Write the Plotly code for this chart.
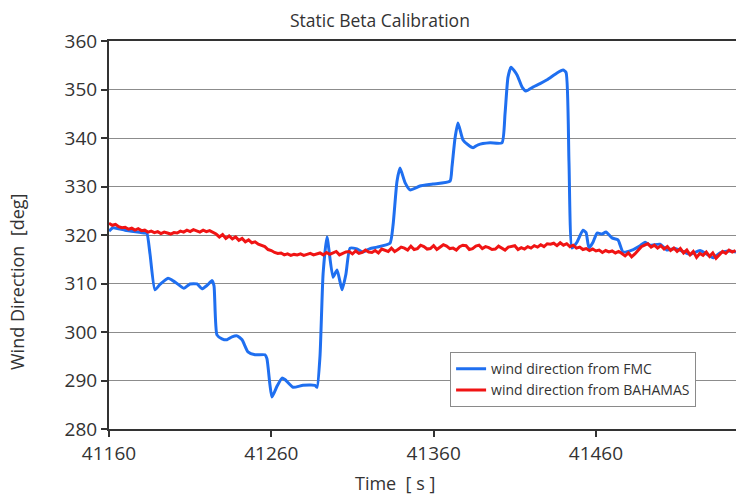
import plotly.graph_objects as go

# FMC-derived wind direction (time [s], direction [deg])
fmc_time = [
    41160.0, 41162.5, 41169.9, 41182.2, 41183.4, 41185.3, 41188.3, 41191.4, 41196.4, 41198.8,
    41201.9, 41206.2, 41209.9, 41214.2, 41217.3, 41220.4, 41223.5, 41224.7, 41226.5, 41229.6,
    41232.7, 41235.8, 41238.9, 41242.0, 41245.6, 41250.0, 41256.1, 41257.3, 41259.2, 41260.4,
    41263.5, 41266.6, 41268.4, 41273.4, 41279.5, 41286.9, 41288.2, 41290.0, 41291.9, 41294.3,
    41298.0, 41300.5, 41303.6, 41306.0, 41308.5, 41312.8, 41316.5, 41320.8, 41325.1, 41333.1,
    41335.0, 41337.4, 41339.3, 41342.4, 41345.5, 41351.6, 41359.6, 41370.1, 41371.3, 41373.2,
    41375.0, 41378.1, 41381.2, 41384.3, 41387.4, 41394.8, 41402.1, 41404.0, 41405.8, 41407.7,
    41411.4, 41414.5, 41416.9, 41421.2, 41425.6, 41429.9, 41436.0, 41439.7, 41441.6, 41443.4,
    41445.3, 41448.3, 41452.0, 41453.9, 41455.7, 41458.2, 41460.7, 41463.8, 41466.2, 41469.9,
    41473.6, 41476.7, 41482.2, 41487.2, 41490.3, 41493.3, 41499.5, 41503.8, 41508.7, 41513.7,
    41518.0, 41524.1, 41528.5, 41532.2, 41536.5, 41541.4, 41546.3,
]
fmc_dir = [
    320.8, 321.5, 321.0, 320.4, 320.3, 316.0, 308.7, 309.8, 311.1, 310.7,
    310.0, 309.0, 309.9, 309.9, 308.9, 309.6, 310.6, 309.5, 299.4, 298.6,
    298.4, 299.0, 299.2, 298.4, 295.9, 295.3, 295.3, 294.5, 289.0, 286.6,
    288.8, 290.5, 290.2, 288.6, 289.0, 289.0, 288.6, 295.0, 312.0, 319.6,
    311.3, 312.8, 308.7, 312.0, 317.3, 317.1, 316.5, 317.2, 317.5, 318.3,
    322.0, 331.0, 333.8, 330.8, 329.3, 330.1, 330.5, 331.1, 334.0, 340.0,
    343.1, 339.6, 338.6, 338.0, 338.6, 339.0, 339.0, 345.0, 352.5, 354.6,
    353.0, 350.5, 349.7, 350.5, 351.2, 352.0, 353.4, 354.0, 353.5, 335.0,
    317.3, 318.5, 321.0, 320.5, 317.3, 318.5, 320.4, 320.2, 320.6, 319.4,
    319.0, 316.5, 316.9, 317.8, 318.5, 317.9, 318.1, 316.9, 317.2, 316.6,
    316.0, 316.8, 316.0, 315.3, 316.3, 316.7, 316.5,
]

# BAHAMAS wind direction, sampled every 2 s
bahamas_time = list(range(41160, 41547, 2))
bahamas_dir = [
    322.4, 322.0, 322.2, 321.7, 321.5, 321.6, 321.2, 321.4, 321.0, 321.3,
    320.9, 321.0, 320.6, 320.8, 320.5, 320.7, 320.3, 320.6, 320.4, 320.2,
    320.5, 320.4, 320.8, 320.6, 321.0, 320.7, 321.1, 320.8, 320.6, 321.0,
    320.7, 320.9, 320.5, 320.2, 319.6, 320.1, 319.3, 319.8, 319.2, 319.6,
    318.9, 319.3, 318.6, 319.0, 318.4, 318.6, 318.1, 317.8, 317.6, 317.0,
    316.8, 316.4, 316.2, 316.3, 315.9, 316.1, 315.8, 316.0, 315.9, 316.1,
    315.8, 316.0, 316.2, 315.9, 316.1, 316.3, 315.9, 316.4, 316.0, 316.3,
    316.6, 315.9, 316.2, 316.5, 316.6, 316.1, 316.7, 316.2, 316.4, 316.9,
    316.5, 316.4, 316.8, 316.3, 317.1, 316.8, 316.6, 317.3, 316.6, 317.0,
    317.5, 317.3, 316.9, 317.7, 317.0, 317.2, 317.9, 317.6, 317.1, 317.2,
    317.8, 317.0, 317.5, 318.0, 317.7, 317.2, 317.3, 316.9, 317.6, 317.9,
    317.8, 317.0, 317.2, 317.7, 317.9, 317.2, 317.6, 317.4, 317.0, 317.1,
    317.7, 317.3, 316.9, 317.5, 317.6, 317.8, 317.0, 317.4, 317.1, 317.6,
    317.3, 317.8, 317.5, 318.0, 317.6, 318.2, 318.1, 318.3, 317.8, 318.4,
    317.9, 318.2, 317.6, 317.9, 317.3, 317.5, 317.0, 317.2, 316.8, 317.1,
    316.7, 316.9, 316.4, 316.8, 316.5, 316.7, 316.3, 316.6, 316.2, 315.7,
    316.3, 315.5, 316.1, 316.8, 317.6, 317.9, 318.2, 317.5, 317.9, 317.3,
    317.8, 317.1, 317.6, 316.8, 317.3, 316.6, 317.2, 316.3, 316.9, 315.9,
    316.6, 315.4, 316.2, 315.8, 316.5, 315.6, 316.3, 315.2, 316.0, 316.6,
    316.2, 316.9, 316.5, 316.8,
]

x_ticks = [41160, 41260, 41360, 41460]
x_tick_text = ["41160", "41260", "41360", "41460"]
y_ticks = [280, 290, 300, 310, 320, 330, 340, 350, 360]
y_tick_text = ["280", "290", "300", "310", "320", "330", "340", "350", "360"]

FONT = "Open Sans"
TEXT = "#333333"

fig = go.Figure()
fig.add_trace(go.Scatter(
    x=fmc_time, y=fmc_dir, mode="lines",
    name="wind direction from FMC",
    line=dict(color="#1f6ff0", width=3, shape="spline", smoothing=0.5),
))
fig.add_trace(go.Scatter(
    x=bahamas_time, y=bahamas_dir, mode="lines",
    name="wind direction from BAHAMAS",
    line=dict(color="#f01414", width=3),
))

fig.update_layout(
    width=736, height=494,
    margin=dict(l=109, r=0, t=41, b=65),
    paper_bgcolor="white", plot_bgcolor="white",
    font=dict(family=FONT, color=TEXT),
    showlegend=True,
    legend=dict(
        x=0.544, y=0.198, xanchor="left", yanchor="top",
        bgcolor="white", bordercolor="#8a8a8a", borderwidth=1,
        font=dict(family=FONT, size=14, color=TEXT),
    ),
    xaxis=dict(
        range=[41160, 41546.3], tickvals=x_ticks, ticktext=x_tick_text,
        showgrid=False, zeroline=False,
        showline=True, linecolor="#333333", linewidth=2, mirror=True,
        ticks="outside", ticklen=6, tickcolor="#333333", tickwidth=1.5,
        tickfont=dict(family=FONT, size=19, color=TEXT),
    ),
    yaxis=dict(
        range=[280, 360], tickvals=y_ticks, ticktext=y_tick_text,
        showgrid=True, gridcolor="#8c8c8c", gridwidth=1.3, zeroline=False,
        showline=True, linecolor="#333333", linewidth=2,
        ticks="outside", ticklen=6, tickcolor="#333333", tickwidth=1.5,
        tickfont=dict(family=FONT, size=19, color=TEXT),
    ),
    annotations=[
        dict(text="Static Beta Calibration", xref="paper", yref="paper",
             x=(380 - 109) / 627, y=1 + 21 / 388, xanchor="center", yanchor="middle",
             showarrow=False, font=dict(family=FONT, size=17.5, color=TEXT)),
        dict(text="Time  [ s ]", xref="paper", yref="paper",
             x=(395 - 109) / 627, y=-(483 - 429) / 388, xanchor="center", yanchor="middle",
             showarrow=False, font=dict(family=FONT, size=18, color=TEXT)),
        dict(text="Wind Direction  [deg]", xref="paper", yref="paper",
             x=-(109 - 17) / 627, y=(429 - 282) / 388, xanchor="center", yanchor="middle",
             textangle=-90, showarrow=False, font=dict(family=FONT, size=18, color=TEXT)),
    ],
)

fig.write_html("out.html")
